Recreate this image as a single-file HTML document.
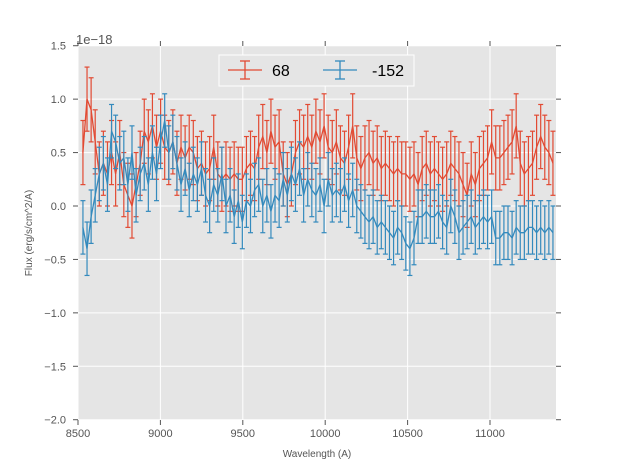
<!DOCTYPE html>
<html><head><meta charset="utf-8"><style>
body{margin:0;background:#fff;}
svg text{font-family:"Liberation Sans","DejaVu Sans",sans-serif;}
</style></head><body>
<svg id="chart" width="617" height="467" xmlns="http://www.w3.org/2000/svg">
<defs><clipPath id="pc"><rect x="78" y="46" width="478" height="374"/></clipPath></defs>
<rect x="0" y="0" width="617" height="467" fill="#fff"/>
<rect x="78" y="46" width="478" height="374" fill="#E5E5E5"/>
<g id="grid"></g>
<g id="axes"></g>
<g id="series" clip-path="url(#pc)"></g>
<text x="76" y="44" font-size="13" fill="#555">1e−18</text>
<text x="317" y="457" font-size="10" fill="#555" text-anchor="middle">Wavelength (A)</text>
<text x="32" y="233" font-size="10" fill="#555" text-anchor="middle" transform="rotate(-90 32 233)">Flux (erg/s/cm^2/A)</text>
<g>
<rect x="219" y="55" width="195" height="31" fill="#E5E5E5" stroke="#fff" stroke-width="1"/>
<g>
<line x1="228" y1="70" x2="262" y2="70" stroke="#E24A33" stroke-width="1.3"/>
<line x1="245" y1="61" x2="245" y2="79" stroke="#E24A33" stroke-width="1.3"/>
<line x1="240" y1="61" x2="250" y2="61" stroke="#E24A33" stroke-width="1.3"/>
<line x1="240" y1="79" x2="250" y2="79" stroke="#E24A33" stroke-width="1.3"/>
<text x="272" y="76" font-size="16" fill="#000">68</text></g>
<g>
<line x1="323" y1="70" x2="357" y2="70" stroke="#348ABD" stroke-width="1.3"/>
<line x1="340" y1="61" x2="340" y2="79" stroke="#348ABD" stroke-width="1.3"/>
<line x1="335" y1="61" x2="345" y2="61" stroke="#348ABD" stroke-width="1.3"/>
<line x1="335" y1="79" x2="345" y2="79" stroke="#348ABD" stroke-width="1.3"/>
<text x="372" y="76" font-size="16" fill="#000">-152</text></g>
</g>
</svg>
<script>
const xTicks=[8500,9000,9500,10000,10500,11000];
const yTicks=[-2.0,-1.5,-1.0,-0.5,0.0,0.5,1.0,1.5];
const yTickLabels=["−2.0","−1.5","−1.0","−0.5","0.0","0.5","1.0","1.5"];
const xStart=8530, xStep=24.8;
const redVals=[0.5,1.0,0.9,0.6,0.3,0.4,0.3,0.5,0.3,0.5,0.2,0.1,0.0,0.2,0.4,0.7,0.6,0.75,0.55,0.7,0.55,0.5,0.6,0.4,0.55,0.45,0.55,0.5,0.35,0.4,0.3,0.35,0.55,0.3,0.25,0.3,0.25,0.3,0.25,0.25,0.35,0.4,0.35,0.55,0.65,0.5,0.7,0.55,0.6,0.3,0.2,0.3,0.5,0.6,0.55,0.65,0.55,0.7,0.6,0.75,0.55,0.5,0.6,0.45,0.4,0.55,0.75,0.45,0.35,0.45,0.5,0.4,0.45,0.35,0.4,0.35,0.3,0.35,0.3,0.3,0.25,0.3,0.2,0.35,0.4,0.3,0.35,0.3,0.25,0.3,0.4,0.35,0.3,0.2,0.1,0.3,0.2,0.35,0.4,0.45,0.6,0.45,0.45,0.5,0.55,0.6,0.75,0.4,0.3,0.35,0.4,0.55,0.65,0.55,0.5,0.4];
const blueVals=[-0.2,-0.4,-0.1,0.1,0.3,0.4,0.2,0.7,0.6,0.4,0.45,0.2,0.5,0.1,0.3,0.4,0.2,0.5,0.3,0.6,0.8,0.5,0.6,0.4,0.2,0.35,0.15,0.3,0.2,0.35,0.1,0.0,0.2,0.1,0.3,0.0,0.1,-0.1,0.05,-0.15,0.05,0.0,0.15,0.2,0.0,0.1,-0.05,0.1,0.05,0.25,0.1,0.3,0.2,0.35,0.1,0.25,0.15,0.1,0.2,0.0,0.25,0.1,0.15,0.1,0.2,0.05,0.15,0.0,-0.05,-0.1,-0.15,-0.1,-0.2,-0.15,-0.2,-0.25,-0.3,-0.2,-0.25,-0.35,-0.4,-0.3,-0.1,-0.1,-0.05,-0.1,-0.1,-0.05,-0.15,-0.2,0.0,-0.1,-0.25,-0.2,-0.15,-0.1,-0.2,-0.15,-0.1,-0.15,-0.1,-0.3,-0.3,-0.25,-0.25,-0.3,-0.2,-0.25,-0.25,-0.2,-0.2,-0.25,-0.2,-0.25,-0.2,-0.25];
const redErr=[0.3];
const blueErr=[0.25];
const NS="http://www.w3.org/2000/svg";
const X=v=>78+(v-8500)*(412/2500);
const Y=v=>206-v*106.86;
function mk(tag,attrs,parent){const e=document.createElementNS(NS,tag);for(const k in attrs)e.setAttribute(k,attrs[k]);parent.appendChild(e);return e;}
const grid=document.getElementById('grid'),axes=document.getElementById('axes'),ser=document.getElementById('series');
xTicks.forEach(t=>{const x=X(t);
 const g=mk('line',{x1:x,y1:46,x2:x,y2:420,stroke:'#fff','stroke-width':1},grid);
 
 
 mk('line',{x1:x,y1:420,x2:x,y2:425,stroke:'#555'},axes);
 mk('line',{x1:x,y1:46,x2:x,y2:41,stroke:'#555'},axes);
 const tx=mk('text',{x:x,y:437,'font-size':11,fill:'#555','text-anchor':'middle'},axes);
 
 
 tx.textContent=t;});
yTicks.forEach((t,i)=>{const y=Y(t);
 const g=mk('line',{x1:78,y1:y,x2:556,y2:y,stroke:'#fff','stroke-width':1},grid);
 
 
 mk('line',{x1:73,y1:y,x2:78,y2:y,stroke:'#555'},axes);
 mk('line',{x1:556,y1:y,x2:561,y2:y,stroke:'#555'},axes);
 const tx=mk('text',{x:66,y:y+4,'font-size':11,fill:'#555','text-anchor':'end'},axes);
 
 
 tx.textContent=yTickLabels[i];});
function draw(vals,errs,color,name){
 const g=mk('g',{},ser);
 
 
 let d='';
 vals.forEach((v,i)=>{const x=X(xStart+xStep*i),e=errs[i%errs.length];
  const y1=Y(v+e),y2=Y(v-e);
  d+=(i?'L':'M')+x.toFixed(1)+' '+Y(v).toFixed(1);
  mk('line',{x1:x,y1:y1,x2:x,y2:y2,stroke:color,'stroke-width':1.2},g);
  mk('line',{x1:x-2.5,y1:y1,x2:x+2.5,y2:y1,stroke:color,'stroke-width':1.2},g);
  mk('line',{x1:x-2.5,y1:y2,x2:x+2.5,y2:y2,stroke:color,'stroke-width':1.2},g);});
 const p=mk('path',{d:d,fill:'none',stroke:color,'stroke-width':1.3},g);
 
 
}
draw(redVals,redErr,'#E24A33','series-68');
draw(blueVals,blueErr,'#348ABD','series-minus152');
</script>
</body></html>
